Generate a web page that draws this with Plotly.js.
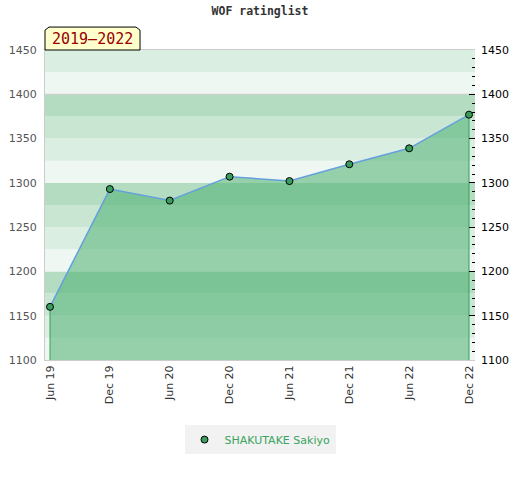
<!DOCTYPE html>
<html>
<head>
<meta charset="utf-8">
<script src="https://cdn.plot.ly/plotly-3.0.1.min.js"></script>
<style>html,body{margin:0;padding:0;background:#fff;}#chart{width:520px;height:480px;}</style>
</head>
<body>
<div id="chart"></div>
<script>
var categories = ["Jun 19","Dec 19","Jun 20","Dec 20","Jun 21","Dec 21","Jun 22","Dec 22"];
var ratings = [1160, 1293, 1280, 1307, 1302, 1321, 1339, 1377];
var playerName = "SHAKUTAKE Sakiyo";
var periodLabel = "2019\u20132022";
var chartTitle = "WOF ratinglist";
var yMin = 1100, yMax = 1450, bandStep = 25;
var bandColors = ["#eef7f1", "#dbeee2", "#c8e6d2", "#b3dcc1"];

var xs = categories.map(function(c, i){ return i; });
var n = ratings.length;

var shapes = [];
for (var b = yMin; b < yMax; b += bandStep) {
  var idx = Math.round(((b % 100) / bandStep)) % 4;
  shapes.push({type:'rect', xref:'paper', yref:'y', x0:0, x1:1, y0:b, y1:b + bandStep,
    fillcolor: bandColors[idx], line:{width:0}, layer:'below'});
}
shapes.push({type:'line', xref:'paper', yref:'y', x0:0, x1:1, y0:1400, y1:1400,
  line:{color:'#cccccc', width:1}, layer:'below'});
// badge box (paper coords)
shapes.push({type:'path', xref:'paper', yref:'paper',
  path:'M 0,1 L 0,1.064 L 0.0093,1.074 L 0.2116,1.074 L 0.221,1.064 L 0.221,1 Z',
  fillcolor:'#ffffcc', line:{color:'#000', width:1}, layer:'above'});

var traces = [
  {x: xs, y: ratings, type:'scatter', mode:'lines', fill:'tozeroy',
   fillcolor:'rgba(77,176,113,0.55)', line:{width:0}, showlegend:false, hoverinfo:'skip'},
  {x: [xs[0], xs[0], null, xs[n-1], xs[n-1]], y: [yMin, ratings[0], null, yMin, ratings[n-1]],
   type:'scatter', mode:'lines', line:{color:'#3a9d5d', width:1}, showlegend:false, hoverinfo:'skip'},
  {x: xs, y: ratings, type:'scatter', mode:'lines', line:{color:'#64a0dc', width:1.5},
   showlegend:false},
  {x: xs, y: ratings, type:'scatter', mode:'markers', name: playerName,
   marker:{color:'#3a9d5d', size:7, line:{color:'#000', width:1}}}
];

var layout = {
  width:520, height:480,
  margin:{l:45, r:45, t:50, b:120},
  paper_bgcolor:'#fff', plot_bgcolor:'rgba(0,0,0,0)',
  title:{text: chartTitle, x:0.5, xanchor:'center', y:0.985, yanchor:'top',
    font:{family:'DejaVu Sans Mono', size:11.5, color:'#333', weight:'bold'}},
  xaxis:{type:'linear', range:[-0.0835, 7.1], tickmode:'array', tickvals: xs, ticktext: categories,
    tickangle:-90, ticks:'', showgrid:false, zeroline:false,
    showline:true, linecolor:'#cccccc', linewidth:1, mirror:true,
    tickfont:{family:'DejaVu Sans', size:11, color:'#333'}},
  yaxis:{range:[yMin, yMax], dtick:50, tick0:1100, showgrid:false, zeroline:false,
    showline:true, linecolor:'#cccccc', linewidth:1, ticks:'', ticklabelstandoff:5,
    tickfont:{family:'DejaVu Sans', size:11, color:'#555'}},
  yaxis2:{range:[yMin, yMax], dtick:50, tick0:1100, overlaying:'y', side:'right',
    showgrid:false, zeroline:false, showline:false, ticks:'inside', ticklen:6, tickcolor:'#000',
    ticklabelstandoff:5,
    minor:{dtick:10, ticks:'inside', ticklen:3, tickcolor:'#000', showgrid:false},
    tickfont:{family:'DejaVu Sans', size:11, color:'#000'}},
  showlegend:true,
  legend:{orientation:'h', x:0.5, xanchor:'center', y:-0.21, yanchor:'top',
    bgcolor:'#f2f2f2', font:{family:'DejaVu Sans', size:11, color:'#3aa35f'}},
  shapes: shapes,
  annotations:[{xref:'paper', yref:'paper', x:0.1105, y:1.036, xanchor:'center', yanchor:'middle',
    text: periodLabel, showarrow:false, font:{family:'DejaVu Sans Mono', size:15, color:'#990000'}}]
};
// dummy trace to activate right axis
traces.push({x:[xs[0]], y:[yMin], yaxis:'y2', type:'scatter', mode:'markers',
  marker:{opacity:0}, showlegend:false, hoverinfo:'skip'});

Plotly.newPlot('chart', traces, layout, {displayModeBar:false, staticPlot:true});
</script>
</body>
</html>
